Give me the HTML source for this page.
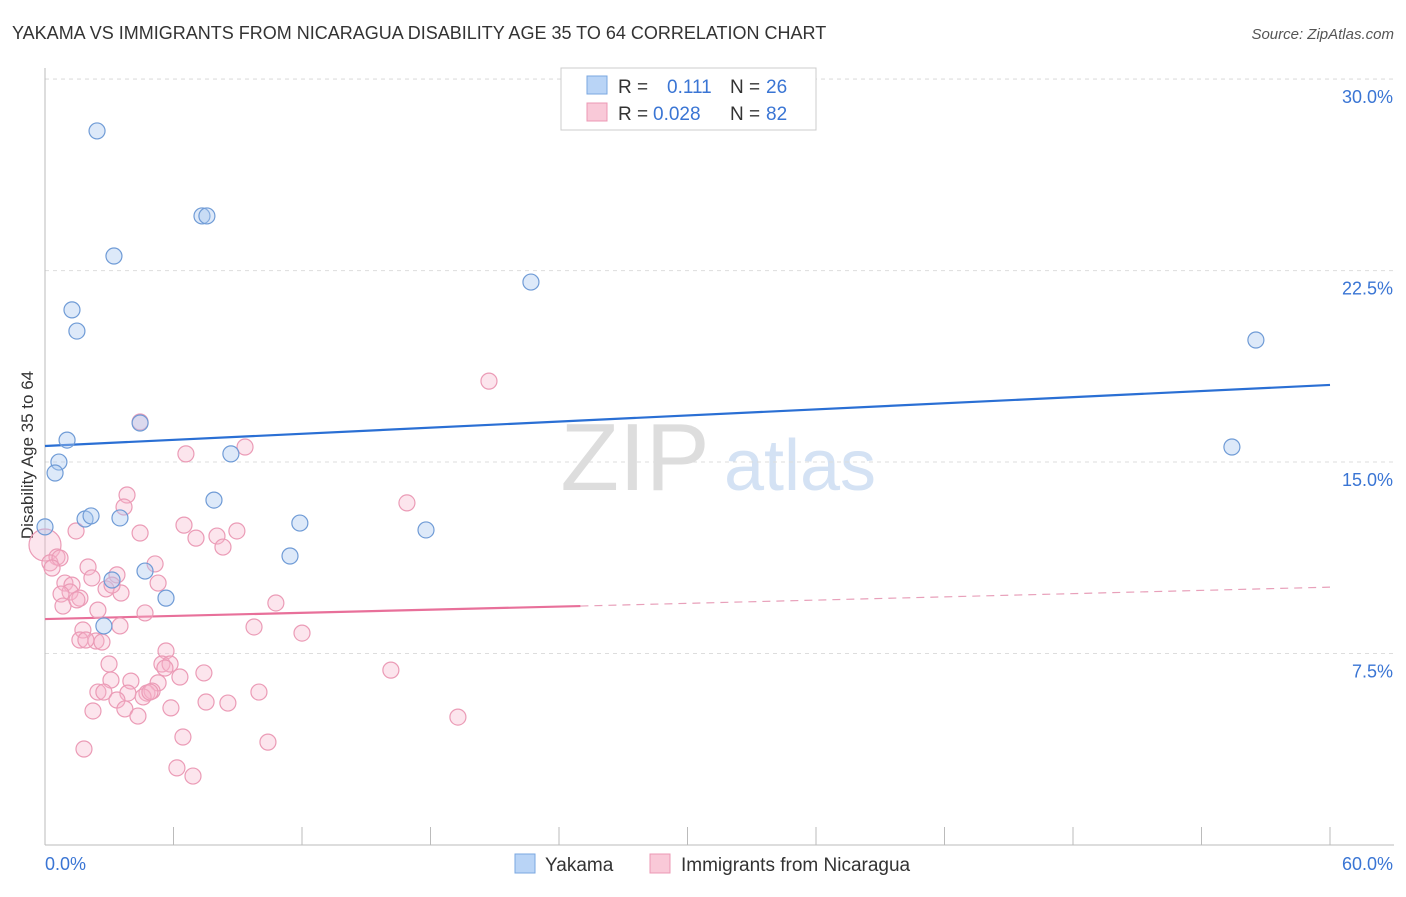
<!DOCTYPE html>
<html><head><meta charset="utf-8">
<style>
body{margin:0;background:#fff;font-family:"Liberation Sans",sans-serif;}
svg text{font-family:"Liberation Sans",sans-serif;}
</style></head>
<body>
<svg id="chart" width="1406" height="892" viewBox="0 0 1406 892">
<text x="12" y="39" font-size="18" fill="#333">YAKAMA VS IMMIGRANTS FROM NICARAGUA DISABILITY AGE 35 TO 64 CORRELATION CHART</text>
<text x="1394" y="39" font-size="15" fill="#555" text-anchor="end" font-style="italic">Source: ZipAtlas.com</text>
<g>
<text x="635" y="490" font-size="96" fill="#ddd" text-anchor="middle" font-family="Liberation Serif">ZIP</text>
<text x="800" y="490" font-size="72" fill="#d4e2f4" text-anchor="middle">atlas</text>
</g>
<g id="grid"></g>
<g id="axes"></g>
<text transform="translate(33,455) rotate(-90)" font-size="17" fill="#333" text-anchor="middle">Disability Age 35 to 64</text>
<g id="trends"></g>
<g id="points"></g>
<g>
<rect x="561" y="68" width="255" height="62" fill="#fff" stroke="#ccc"/>
<rect x="587" y="76" width="20" height="18" fill="#b9d4f6" stroke="#7aa7e0"/>
<text x="618" y="93" font-size="19" fill="#333">R = </text><text x="667" y="93" font-size="19" fill="#3a75d4">0.111</text>
<text x="730" y="93" font-size="19" fill="#333">N = </text><text x="766" y="93" font-size="19" fill="#3a75d4">26</text>
<rect x="587" y="103" width="20" height="18" fill="#f9c9d8" stroke="#ec98b4"/>
<text x="618" y="120" font-size="19" fill="#333">R = </text><text x="653" y="120" font-size="19" fill="#3a75d4">0.028</text>
<text x="730" y="120" font-size="19" fill="#333">N = </text><text x="766" y="120" font-size="19" fill="#3a75d4">82</text>
</g>
<g>
<rect x="515" y="854" width="20" height="19" fill="#b9d4f6" stroke="#7aa7e0"/>
<text x="545" y="871" font-size="19" fill="#333">Yakama</text>
<rect x="650" y="854" width="20" height="19" fill="#f9c9d8" stroke="#ec98b4"/>
<text x="681" y="871" font-size="19" fill="#333">Immigrants from Nicaragua</text>
</g>
</svg>
<script>
const yTicks=[7.5,15,22.5,30];
const yTickLabels=["7.5%","15.0%","22.5%","30.0%"];
const xTickLabels=["0.0%","60.0%"];
const blueX=[2.43,7.33,7.56,3.22,22.69,1.26,1.49,56.54,4.44,1.03,0.65,0.47,55.42,8.68,7.89,0,1.87,2.15,3.5,11.9,17.79,11.44,4.67,3.13,5.65,2.75];
const blueY=[27.97,24.64,24.64,23.07,22.05,20.96,20.13,19.78,16.53,15.86,15.0,14.57,15.59,15.32,13.51,12.46,12.77,12.89,12.81,12.61,12.34,11.32,10.73,10.38,9.67,8.58];
const pinkX=[20.73,4.44,9.34,6.58,3.83,16.9,3.69,1.45,4.44,6.49,8.96,8.03,7.05,8.31,0,0.56,0.23,0.7,0.33,2.01,3.36,5.14,2.19,0.93,1.26,1.17,0.75,1.63,2.85,3.55,5.28,2.47,0.84,1.49,4.67,10.78,3.5,9.76,12.0,1.77,1.63,2.38,2.66,5.65,2.99,5.46,5.84,5.6,7.42,6.3,16.15,3.08,4.01,5.28,2.47,2.75,9.99,3.87,4.76,5.0,3.36,4.58,7.52,8.54,5.88,2.24,3.73,4.34,19.28,6.44,10.41,1.82,6.16,6.91,3.13,1.91,4.9];
const pinkY=[18.17,16.57,15.59,15.32,13.71,13.4,13.24,12.3,12.22,12.53,12.3,12.1,12.02,11.67,11.75,11.28,11.05,11.24,10.85,10.89,10.58,11.01,10.46,10.26,10.18,9.91,9.83,9.67,10.03,9.87,10.26,9.2,9.36,9.6,9.09,9.48,8.58,8.54,8.3,8.42,8.03,7.99,7.95,7.6,7.09,7.09,7.09,6.93,6.74,6.58,6.85,6.46,6.42,6.35,5.99,5.99,5.99,5.95,5.95,6.03,5.68,5.8,5.6,5.56,5.37,5.25,5.33,5.05,5.01,4.23,4.03,3.76,3.02,2.7,10.18,8.03,5.99];
const blueTrendX=[0,60], blueTrendY=[15.63,18.02];
const pinkTrendX=[0,25,60], pinkTrendY=[8.85,9.36,10.1];
const NS="http://www.w3.org/2000/svg";
const X0=45,X1=1330,Y0=845,PX=(X1-X0)/60,PY=25.53;
const sx=v=>X0+v*PX, sy=v=>Y0-v*PY;
function mk(tag,attrs,parent){const e=document.createElementNS(NS,tag);for(const k in attrs)e.setAttribute(k,attrs[k]);parent.appendChild(e);return e;}
const grid=document.getElementById('grid'),axes=document.getElementById('axes');
yTicks.forEach((t,i)=>{
 const l=mk('line',{x1:X0,x2:1394,y1:sy(t),y2:sy(t),stroke:'#ddd','stroke-dasharray':'4,4'},grid);
 
 
 const tx=mk('text',{x:1393,y:sy(t)+24,'font-size':18,fill:'#3a75d4','text-anchor':'end'},axes);
 tx.textContent=yTickLabels[i];
 
 
});
const topLine=mk('line',{x1:X0,x2:1394,y1:79,y2:79,stroke:'#ddd','stroke-dasharray':'4,4'},grid);


const ya=mk('line',{x1:X0,x2:X0,y1:68,y2:Y0,stroke:'#bbb'},axes);


const xa=mk('line',{x1:X0,x2:1394,y1:Y0,y2:Y0,stroke:'#bbb'},axes);


for(let i=0;i<=10;i++){const v=i*6;const t=mk('line',{x1:sx(v),x2:sx(v),y1:Y0,y2:Y0-18,stroke:'#bbb'},axes);
 
 }
[[0,'start',45],[60,'end',1393]].forEach((a,i)=>{const t=mk('text',{x:a[2],y:870,'font-size':18,fill:'#3a75d4','text-anchor':a[1]},axes);t.textContent=xTickLabels[i];
 
 });
const pts=document.getElementById('points');
pinkX.forEach((x,i)=>{const c=mk('circle',{cx:sx(x),cy:sy(pinkY[i]),r:(x===0?16:8),fill:'rgba(246,180,202,0.35)',stroke:'#eb9bb6','stroke-width':1.2},pts);
 
 });
blueX.forEach((x,i)=>{const c=mk('circle',{cx:sx(x),cy:sy(blueY[i]),r:8,fill:'rgba(170,200,240,0.4)',stroke:'#6f9bd6','stroke-width':1.2},pts);
 
 });
const tr=document.getElementById('trends');
const bl=mk('line',{x1:sx(blueTrendX[0]),y1:sy(blueTrendY[0]),x2:sx(blueTrendX[1]),y2:sy(blueTrendY[1]),stroke:'#2a6fd4','stroke-width':2.2},tr);


const pl=mk('line',{x1:sx(pinkTrendX[0]),y1:sy(pinkTrendY[0]),x2:sx(pinkTrendX[1]),y2:sy(pinkTrendY[1]),stroke:'#e8709a','stroke-width':2.2},tr);


const pd=mk('line',{x1:sx(pinkTrendX[1]),y1:sy(pinkTrendY[1]),x2:sx(pinkTrendX[2]),y2:sy(pinkTrendY[2]),stroke:'#e8a0ba','stroke-width':1.2,'stroke-dasharray':'8,6'},tr);


</script>
</body></html>
